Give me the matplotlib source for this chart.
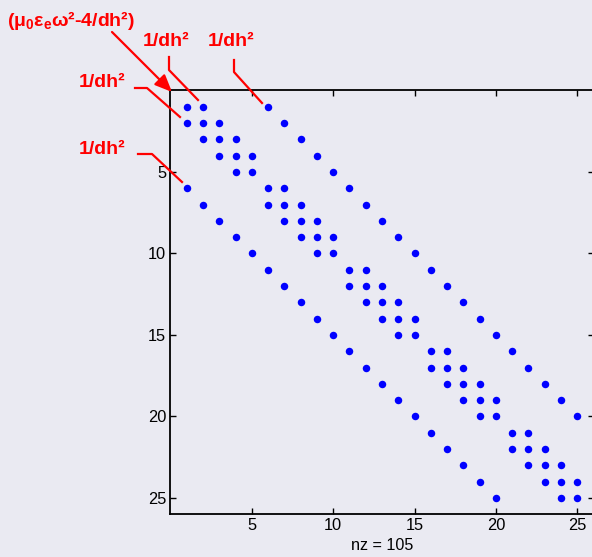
import numpy as np
import matplotlib
matplotlib.use("Agg")
import matplotlib.pyplot as plt
from matplotlib.lines import Line2D
from matplotlib.patches import FancyArrowPatch

# nonzero column indices for each row (1-based) of the 25x25 matrix
row_cols = [
    [1, 2, 6], [1, 2, 3, 7], [2, 3, 4, 8], [3, 4, 5, 9], [4, 5, 10],
    [1, 6, 7, 11], [2, 6, 7, 8, 12], [3, 7, 8, 9, 13], [4, 8, 9, 10, 14], [5, 9, 10, 15],
    [6, 11, 12, 16], [7, 11, 12, 13, 17], [8, 12, 13, 14, 18], [9, 13, 14, 15, 19], [10, 14, 15, 20],
    [11, 16, 17, 21], [12, 16, 17, 18, 22], [13, 17, 18, 19, 23], [14, 18, 19, 20, 24], [15, 19, 20, 25],
    [16, 21, 22], [17, 21, 22, 23], [18, 22, 23, 24], [19, 23, 24, 25], [20, 24, 25],
]
ticks = [5, 10, 15, 20, 25]
n = 25

rows = [i + 1 for i, cs in enumerate(row_cols) for _ in cs]
cols = [c for cs in row_cols for c in cs]
nz = len(cols)

bg = '#EAEAF2'
W, H = 592, 557
fig = plt.figure(figsize=(W / 100, H / 100), dpi=100, facecolor=bg)
ax = fig.add_axes([170.4 / W, 1 - 514.3 / H, 423.2 / W, 423.9 / H], facecolor=bg)

ax.plot(cols, rows, 'o', color='#0000FF', markersize=5.4, markeredgewidth=0)
ax.set_xlim(0, n + 1)
ax.set_ylim(n + 1, 0)
ax.set_xticks(ticks)
ax.set_yticks(ticks)
ax.tick_params(direction='in', length=4, width=1, top=True, right=True,
               labelsize=11.8, pad=3)
for lab in ax.get_xticklabels() + ax.get_yticklabels():
    lab.set_family('Liberation Sans')
for s in ax.spines.values():
    s.set_linewidth(1.3)
ax.set_xlabel(f'nz = {nz}', family='Liberation Sans', fontsize=11.6, labelpad=3)


def P(x, y):
    return (x / W, 1 - y / H)


red = '#FF0000'
fam = ['Liberation Sans', 'DejaVu Sans']
tkw = dict(color=red, fontsize=14, fontweight='bold', family=fam,
           transform=fig.transFigure, va='center', ha='left')

fig.text(*P(7, 20), '(μ$_\\mathregular{0}$ε$_\\mathregular{e}$ω²-4/dh²)', **tkw)
fig.text(*P(143, 41), '1/dh²', **tkw)
fig.text(*P(208, 41), '1/dh²', **tkw)
fig.text(*P(79, 82), '1/dh²', **tkw)
fig.text(*P(79, 149), '1/dh²', **tkw)


def poly(pts):
    xs = [P(x, y)[0] for x, y in pts]
    ys = [P(x, y)[1] for x, y in pts]
    fig.add_artist(Line2D(xs, ys, color=red, lw=1.6, transform=fig.transFigure))


poly([(135, 88), (147, 88), (180, 117)])
poly([(169, 57), (169, 70), (198, 100)])
poly([(234, 60), (234, 72), (262, 103)])
poly([(138, 154), (152, 154), (182, 182)])

arr = FancyArrowPatch(P(112, 32), P(172, 92), transform=fig.transFigure,
                      arrowstyle='-|>,head_length=6.5,head_width=2.8', color=red,
                      lw=1.6, mutation_scale=1.6, shrinkA=0, shrinkB=0)
fig.add_artist(arr)

fig.savefig('out.png', dpi=100, facecolor=bg)
